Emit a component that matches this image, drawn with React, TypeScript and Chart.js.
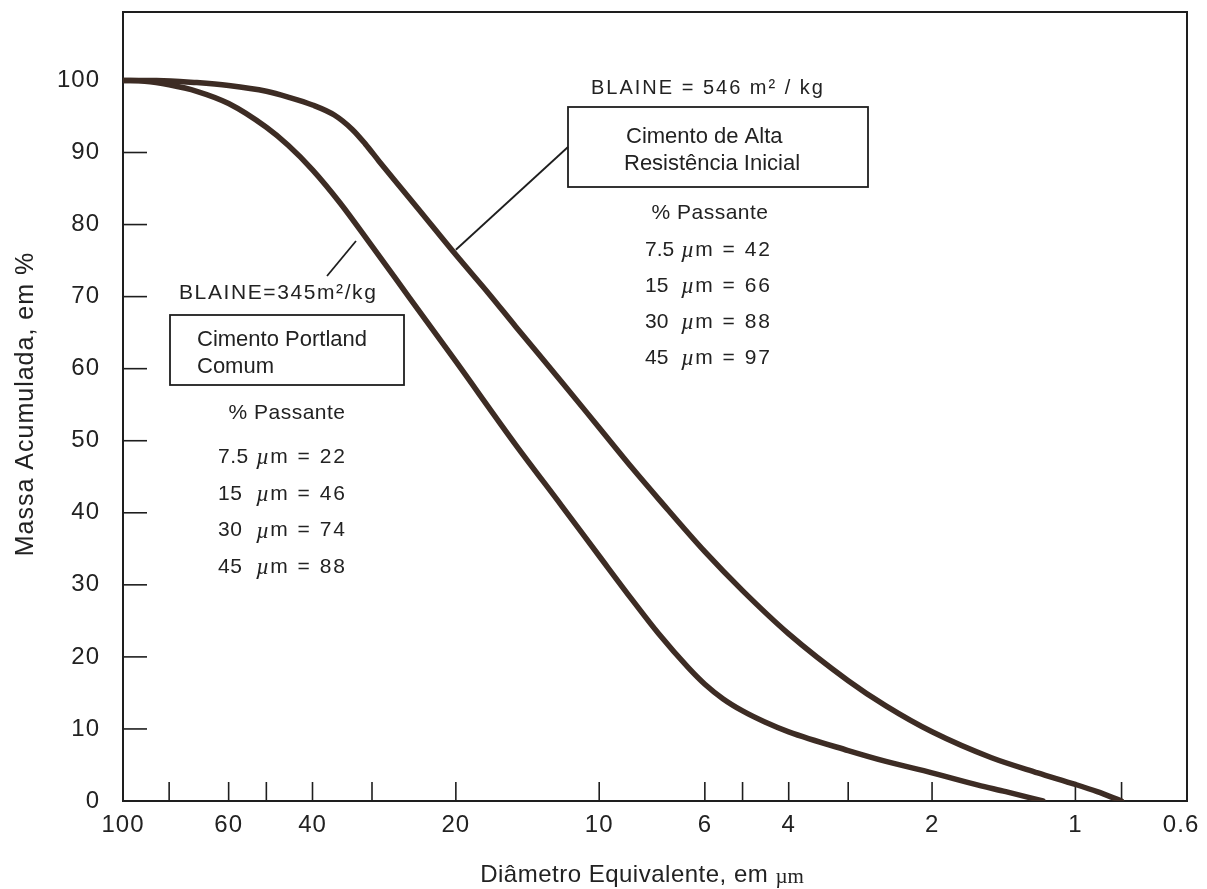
import React, { useEffect, useRef } from "react";
import { Chart, registerables } from "chart.js";
Chart.register(...registerables);

// ---------- data ----------
const diameterLabels = [100, 60, 40, 20, 10, 6, 4, 2, 1, 0.6];
const diameterMinorTicks = [80, 60, 50, 40, 30, 20, 10, 6, 5, 4, 3, 2, 1, 0.8];
const massTicks = [0, 10, 20, 30, 40, 50, 60, 70, 80, 90, 100];

const altaDiameters = [100, 85, 70, 60, 50, 45, 40, 36, 33, 31, 29, 27, 24, 20, 17, 15, 12, 10, 8.5, 7.5, 6, 5, 4, 3, 2.5, 2, 1.5, 1.2, 1, 0.9, 0.8];
const altaMass = [100, 100, 99.7, 99.3, 98.5, 97.7, 96.6, 95.2, 93.2, 91.2, 88.8, 86.3, 82.2, 75.8, 70.3, 65.9, 58.2, 51.8, 46.1, 41.9, 34.6, 29.2, 23.2, 16.7, 13.2, 9.6, 6.0, 3.9, 2.3, 1.3, 0];

const portlandDiameters = [100, 90, 80, 70, 60, 50, 45, 40, 35, 30, 25, 20, 15, 12, 10, 8.5, 7.5, 6.5, 6, 5.5, 5, 4.5, 4, 3, 2.5, 2, 1.6, 1.4, 1.17];
const portlandMass = [100, 99.9, 99.4, 98.5, 96.8, 93.5, 91, 87.6, 83, 77, 69.8, 61, 49.5, 41, 34, 27.8, 23.2, 18.5, 16.2, 14.2, 12.5, 11, 9.6, 7, 5.5, 3.9, 2.2, 1.3, 0];

const altaBlaine = "BLAINE = 546 m² / kg";
const altaTitle = ["Cimento de Alta", "Resistência Inicial"];
const portlandBlaine = "BLAINE=345m²/kg";
const portlandTitle = ["Cimento Portland", "Comum"];
const passingHeader = "% Passante";
const passingSizes = ["7.5", "15", "30", "45"];
const altaPassing = [42, 66, 88, 97];
const portlandPassing = [22, 46, 74, 88];

const yTitle = "Massa Acumulada, em %";
const xTitle = "Diâmetro Equivalente, em ";
const xTitleUnit = "µm";

const FONT = '"Liberation Sans", Arial, Helvetica, sans-serif';
const SERIF = '"Liberation Serif", "DejaVu Serif", serif';
const INK = "#222";

function drawText(ctx: any, s: string, x: number, y: number, size: number, align: string = "left", spacing = 0, italic = false, family = FONT) {
  ctx.font = `${italic ? "italic " : ""}${size}px ${family}`;
  ctx.letterSpacing = spacing + "px";
  ctx.textAlign = align;
  ctx.textBaseline = "middle";
  ctx.fillText(s, x, y);
  return ctx.measureText(s).width;
}

function line(ctx: any, x1: number, y1: number, x2: number, y2: number) {
  ctx.beginPath();
  ctx.moveTo(x1, y1);
  ctx.lineTo(x2, y2);
  ctx.stroke();
}

const framePlugin = {
  id: "frame",
  beforeDraw(chart: any) {
    const ctx = chart.ctx;
    ctx.save();
    ctx.fillStyle = "#fff";
    ctx.fillRect(0, 0, chart.width, chart.height);
    ctx.restore();
    ctx.letterSpacing = "1px";
  },
  beforeDatasetsDraw(chart: any) {
    const ctx = chart.ctx;
    const { left, right, top, bottom } = chart.chartArea;
    const xs = chart.scales.x, ys = chart.scales.y;
    ctx.save();
    ctx.letterSpacing = "0px";
    ctx.strokeStyle = "#1e1e1e";
    ctx.lineWidth = 2;
    ctx.strokeRect(left, top, right - left, bottom - top);
    ctx.lineWidth = 1.6;
    diameterMinorTicks.forEach((v) => {
      const px = xs.getPixelForValue(v);
      line(ctx, px, bottom, px, bottom - 19);
    });
    massTicks.slice(1).forEach((v) => {
      const py = ys.getPixelForValue(v);
      line(ctx, left, py, left + 24, py);
    });
    ctx.restore();
  },
  afterDraw(chart: any) {
    const ctx = chart.ctx;
    ctx.save();
    ctx.letterSpacing = "0px";
    ctx.fillStyle = INK;
    ctx.strokeStyle = "#1e1e1e";
    ctx.lineWidth = 1.6;

    // axis titles
    ctx.save();
    ctx.translate(26, 404);
    ctx.rotate(-Math.PI / 2);
    drawText(ctx, yTitle, 0, 0, 25, "center", 1);
    ctx.restore();
    ctx.fillStyle = INK;
    ctx.font = `24px ${FONT}`;
    ctx.letterSpacing = "0.5px";
    const xw = ctx.measureText(xTitle).width;
    ctx.font = `21px ${SERIF}`;
    ctx.letterSpacing = "0px";
    const uw = ctx.measureText(xTitleUnit).width;
    const xStart = 642 - (xw + uw) / 2;
    drawText(ctx, xTitle, xStart, 875, 24, "left", 0.5);
    drawText(ctx, xTitleUnit, xStart + xw, 877, 21, "left", 0, false, SERIF);

    // ---- Alta Resistência annotation ----
    drawText(ctx, altaBlaine, 708, 88, 20, "center", 2);
    ctx.lineWidth = 1.8;
    ctx.strokeRect(568, 107, 300, 80);
    drawText(ctx, altaTitle[0], 626, 137, 22, "left", 0);
    drawText(ctx, altaTitle[1], 624, 164, 22, "left", 0);
    drawText(ctx, passingHeader, 710, 213, 21, "center", 0.5);
    passingSizes.forEach((s, i) => {
      const y = 250 + i * 36;
      drawText(ctx, s, 645, y, 21, "left", 0);
      const mw = drawText(ctx, "µ", 681, y + 1, 23, "left", 0, true, SERIF);
      drawText(ctx, "m = " + altaPassing[i], 681 + mw + 1, y, 21, "left", 2);
    });
    // leader line to upper curve
    const xs = chart.scales.x, ys = chart.scales.y;
    ctx.lineWidth = 1.8;
    line(ctx, xs.getPixelForValue(20), ys.getPixelForValue(76.5), 568, 147);

    // ---- Portland comum annotation ----
    drawText(ctx, portlandBlaine, 179, 293, 21, "left", 1.6);
    ctx.strokeRect(170, 315, 234, 70);
    drawText(ctx, portlandTitle[0], 197, 340, 22, "left", 0);
    drawText(ctx, portlandTitle[1], 197, 367, 22, "left", 0);
    drawText(ctx, passingHeader, 287, 413, 21, "center", 0.5);
    passingSizes.forEach((s, i) => {
      const y = 457 + i * 36.8;
      drawText(ctx, s, 218, y, 21, "left", 0.5);
      const mw = drawText(ctx, "µ", 256, y + 1, 23, "left", 0, true, SERIF);
      drawText(ctx, "m = " + portlandPassing[i], 256 + mw + 1, y, 21, "left", 2);
    });
    line(ctx, 356, 241, 327, 276);

    ctx.restore();
  },
};

export default function App() {
  const canvasRef = useRef<HTMLCanvasElement | null>(null);

  useEffect(() => {
    const canvas = canvasRef.current;
    if (!canvas) return;
    const curve = (xs: number[], ys: number[], color: string, width: number) => ({
      data: xs.map((x, i) => ({ x, y: ys[i] })),
      borderColor: color,
      borderWidth: width,
      pointRadius: 0,
      fill: false,
      cubicInterpolationMode: "monotone" as const,
      borderCapStyle: "round" as const,
    });
    const chart = new Chart(canvas, {
      type: "line",
      data: {
        datasets: [
          curve(altaDiameters, altaMass, "#3d2c24", 5.5),
          curve(altaDiameters, altaMass, "#846a5a", 2),
          curve(portlandDiameters, portlandMass, "#3d2c24", 5.5),
          curve(portlandDiameters, portlandMass, "#846a5a", 2),
        ],
      },
      options: {
        responsive: false,
        animation: false,
        devicePixelRatio: 1,
        layout: { padding: { top: 12, right: 20, left: 0, bottom: 0 } },
        plugins: { legend: { display: false }, tooltip: { enabled: false }, title: { display: false } },
        events: [],
        scales: {
          x: {
            type: "logarithmic",
            reverse: true,
            min: 0.583,
            max: 100,
            grid: { display: false, drawTicks: false },
            border: { display: false },
            afterFit: (s: any) => { s.height = 88; s.paddingLeft = 0; s.paddingRight = 0; },
            afterBuildTicks: (s: any) => { s.ticks = diameterLabels.map((v) => ({ value: v })); },
            ticks: {
              autoSkip: false,
              maxRotation: 0,
              padding: 10,
              color: INK,
              font: { family: FONT, size: 24 },
              callback: (v: any) => String(v),
            },
          },
          y: {
            type: "linear",
            min: 0,
            max: 109.5,
            grid: { display: false, drawTicks: false },
            border: { display: false },
            afterFit: (s: any) => { s.width = 123; s.paddingTop = 0; s.paddingBottom = 0; },
            afterBuildTicks: (s: any) => { s.ticks = massTicks.map((v) => ({ value: v })); },
            ticks: {
              padding: 23,
              color: INK,
              font: { family: FONT, size: 24 },
              callback: (v: any) => String(v),
            },
          },
        },
      },
      plugins: [framePlugin],
    } as any);
    return () => chart.destroy();
  }, []);

  return (
    <div style={{ position: "fixed", left: 0, top: 0, width: 1207, height: 889, background: "#fff" }}>
      <canvas ref={canvasRef} width={1207} height={889} style={{ display: "block", width: 1207, height: 889 }} />
    </div>
  );
}
